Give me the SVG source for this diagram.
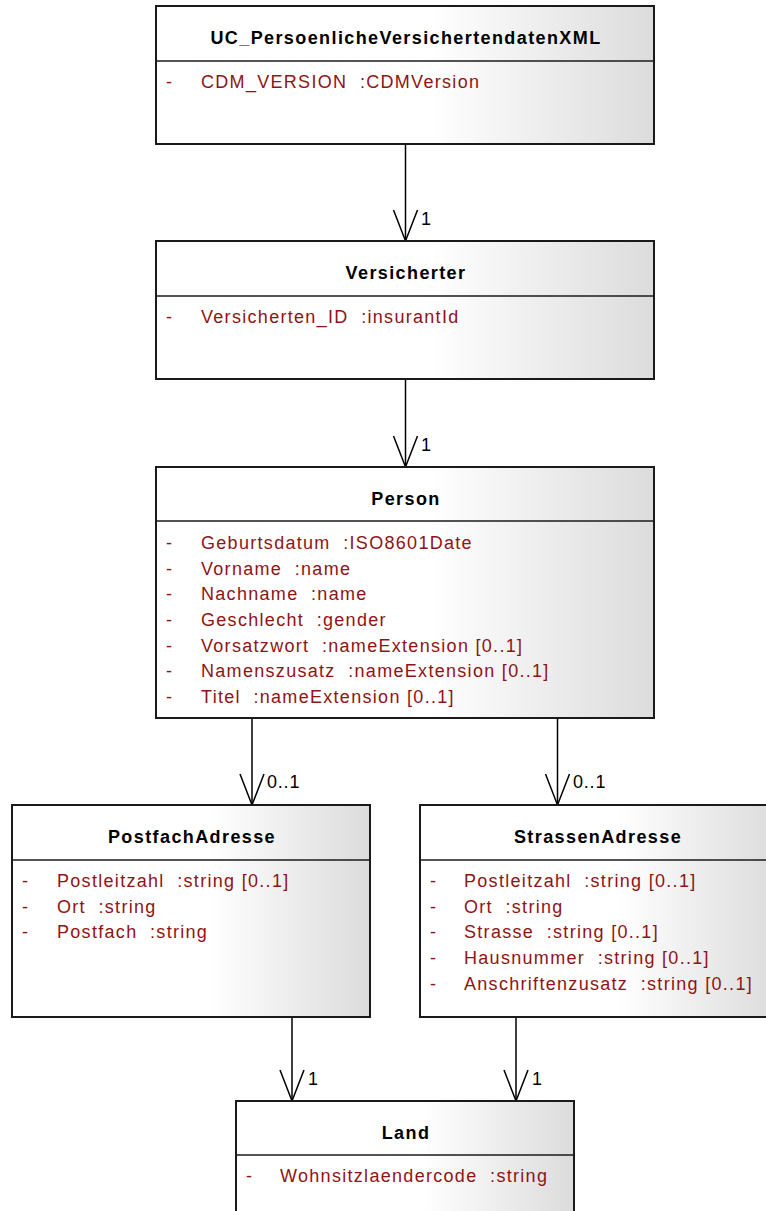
<svg xmlns="http://www.w3.org/2000/svg" width="766" height="1211" viewBox="0 0 766 1211" xml:space="preserve">
<style>
.box{fill:url(#g);stroke:#1a1a1a;stroke-width:2}
.div{stroke:#1a1a1a;stroke-width:1.6}
.t{font-family:"Liberation Sans",Arial,sans-serif;font-size:18px;font-weight:bold;fill:#000;text-anchor:middle;letter-spacing:1.4px;white-space:pre}
.a{font-family:"Liberation Sans",Arial,sans-serif;font-size:18px;fill:#8f1414;letter-spacing:1.3px;white-space:pre}
.c{stroke:#000;stroke-width:1.5;fill:none}
.l{font-family:"Liberation Sans",Arial,sans-serif;font-size:18px;fill:#000;letter-spacing:0.8px}
</style>
<defs>
<linearGradient id="g" x1="0" y1="0" x2="1" y2="0">
<stop offset="0" stop-color="#ffffff"/>
<stop offset="0.55" stop-color="#ffffff"/>
<stop offset="1" stop-color="#dcdcdc"/>
</linearGradient>
<marker id="arr" markerUnits="userSpaceOnUse" viewBox="0 0 34 28" markerWidth="34" markerHeight="28" refX="32" refY="14" orient="auto" overflow="visible">
<path d="M1,2 L32,14 L1,26" fill="none" stroke="#000" stroke-width="1.5"/>
</marker>
</defs>
<rect width="766" height="1211" fill="#fff"/>
<g id="connectors">
<line class="c" x1="405.5" y1="145" x2="405.5" y2="241" marker-end="url(#arr)"/>
<text class="l" x="421" y="225">1</text>
<line class="c" x1="405.5" y1="380" x2="405.5" y2="467" marker-end="url(#arr)"/>
<text class="l" x="421" y="451">1</text>
<line class="c" x1="252" y1="719" x2="252" y2="805" marker-end="url(#arr)"/>
<text class="l" x="267" y="788">0..1</text>
<line class="c" x1="557.5" y1="719" x2="557.5" y2="805" marker-end="url(#arr)"/>
<text class="l" x="573" y="788">0..1</text>
<line class="c" x1="292" y1="1018" x2="292" y2="1101" marker-end="url(#arr)"/>
<text class="l" x="308" y="1085">1</text>
<line class="c" x1="516" y1="1018" x2="516" y2="1101" marker-end="url(#arr)"/>
<text class="l" x="532" y="1085">1</text>
</g>
<g id="UC_PersoenlicheVersichertendatenXML">
<rect class="box" x="156" y="6" width="498" height="138"/>
<line class="div" x1="156" y1="61" x2="654" y2="61"/>
<text class="t" x="406" y="44">UC_PersoenlicheVersichertendatenXML</text>
<text class="a" x="166" y="88">-</text>
<text class="a" x="201" y="88">CDM_VERSION  :CDMVersion</text>
</g>
<g id="Versicherter">
<rect class="box" x="156" y="241" width="498" height="138"/>
<line class="div" x1="156" y1="296" x2="654" y2="296"/>
<text class="t" x="406" y="279">Versicherter</text>
<text class="a" x="166" y="323">-</text>
<text class="a" x="201" y="323">Versicherten_ID  :insurantId</text>
</g>
<g id="Person">
<rect class="box" x="156" y="467" width="498" height="251"/>
<line class="div" x1="156" y1="521" x2="654" y2="521"/>
<text class="t" x="406" y="505">Person</text>
<text class="a" x="166" y="549">-</text><text class="a" x="201" y="549">Geburtsdatum  :ISO8601Date</text>
<text class="a" x="166" y="575">-</text><text class="a" x="201" y="575">Vorname  :name</text>
<text class="a" x="166" y="600">-</text><text class="a" x="201" y="600">Nachname  :name</text>
<text class="a" x="166" y="626">-</text><text class="a" x="201" y="626">Geschlecht  :gender</text>
<text class="a" x="166" y="652">-</text><text class="a" x="201" y="652">Vorsatzwort  :nameExtension [0..1]</text>
<text class="a" x="166" y="677">-</text><text class="a" x="201" y="677">Namenszusatz  :nameExtension [0..1]</text>
<text class="a" x="166" y="703">-</text><text class="a" x="201" y="703">Titel  :nameExtension [0..1]</text>
</g>
<g id="PostfachAdresse">
<rect class="box" x="12" y="805" width="358" height="212"/>
<line class="div" x1="12" y1="860" x2="370" y2="860"/>
<text class="t" x="192" y="843">PostfachAdresse</text>
<text class="a" x="22" y="887">-</text><text class="a" x="57" y="887">Postleitzahl  :string [0..1]</text>
<text class="a" x="22" y="913">-</text><text class="a" x="57" y="913">Ort  :string</text>
<text class="a" x="22" y="938">-</text><text class="a" x="57" y="938">Postfach  :string</text>
</g>
<g id="StrassenAdresse">
<rect class="box" x="420" y="805" width="358" height="212"/>
<line class="div" x1="420" y1="860" x2="778" y2="860"/>
<text class="t" x="598" y="843">StrassenAdresse</text>
<text class="a" x="430" y="887">-</text><text class="a" x="464" y="887">Postleitzahl  :string [0..1]</text>
<text class="a" x="430" y="913">-</text><text class="a" x="464" y="913">Ort  :string</text>
<text class="a" x="430" y="938">-</text><text class="a" x="464" y="938">Strasse  :string [0..1]</text>
<text class="a" x="430" y="964">-</text><text class="a" x="464" y="964">Hausnummer  :string [0..1]</text>
<text class="a" x="430" y="990">-</text><text class="a" x="464" y="990">Anschriftenzusatz  :string [0..1]</text>
</g>
<g id="Land">
<rect class="box" x="236" y="1101" width="338" height="140"/>
<line class="div" x1="236" y1="1155" x2="574" y2="1155"/>
<text class="t" x="406" y="1139">Land</text>
<text class="a" x="246" y="1182">-</text><text class="a" x="280" y="1182">Wohnsitzlaendercode  :string</text>
</g>
</svg>
